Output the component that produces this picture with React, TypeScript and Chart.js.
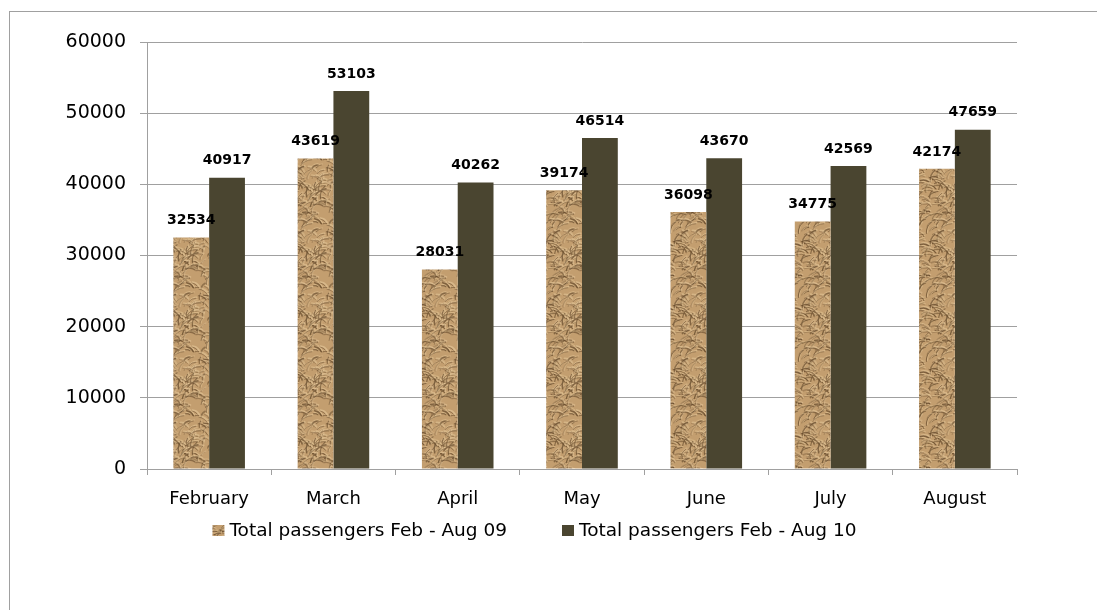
import React, { useEffect, useRef } from "react";
import { Chart, registerables } from "chart.js";

Chart.register(...registerables);

const categories = ["February", "March", "April", "May", "June", "July", "August"];
const passengers09 = [32534, 43619, 28031, 39174, 36098, 34775, 42174];
const passengers10 = [40917, 53103, 40262, 46514, 43670, 42569, 47659];
const seriesLabels = ["Total passengers Feb - Aug 09", "Total passengers Feb - Aug 10"];
const yMin = 0;
const yMax = 60000;
const yStep = 10000;

const DARK = "#4A4530";
const GRID = "#A0A0A0";
const FONT = "'DejaVu Sans', Verdana, sans-serif";

// Procedural "crumpled paper" texture (deterministic, purely decorative)
function makeTexture(): CanvasPattern | string {
  const size = 64;
  const c = document.createElement("canvas");
  c.width = size;
  c.height = size;
  const g = c.getContext("2d");
  if (!g) return "#C29D6E";
  g.fillStyle = "#C39E6F";
  g.fillRect(0, 0, size, size);
  let s = 1234567;
  const rnd = () => {
    s = (s * 16807) % 2147483647;
    return s / 2147483647;
  };
  const strokeWrapped = (x: number, y: number, dx: number, dy: number) => {
    for (const ox of [-size, 0, size]) {
      for (const oy of [-size, 0, size]) {
        g.beginPath();
        g.moveTo(x + ox, y + oy);
        g.quadraticCurveTo(x + ox + dx * 0.5 + dy * 0.25, y + oy + dy * 0.5 - dx * 0.25, x + ox + dx, y + oy + dy);
        g.stroke();
      }
    }
  };
  g.lineCap = "round";
  for (let i = 0; i < 190; i++) {
    const x = rnd() * size;
    const y = rnd() * size;
    const ang = -1.4 + rnd() * 2.2;
    const len = 3 + rnd() * 10;
    const dx = Math.cos(ang) * len;
    const dy = Math.sin(ang) * len;
    g.strokeStyle = `rgba(226,196,150,${0.3 + rnd() * 0.4})`;
    g.lineWidth = 0.8 + rnd() * 1.4;
    strokeWrapped(x + 1, y - 1, dx, dy);
    g.strokeStyle = `rgba(98,70,40,${0.3 + rnd() * 0.45})`;
    g.lineWidth = 0.6 + rnd() * 1.0;
    strokeWrapped(x, y, dx, dy);
  }
  return g.createPattern(c, "repeat") || "#C29D6E";
}

export default function App() {
  const canvasRef = useRef<HTMLCanvasElement | null>(null);

  useEffect(() => {
    const canvas = canvasRef.current;
    if (!canvas) return;
    const texture = makeTexture();

    const valueLabels = {
      id: "valueLabels",
      afterDatasetsDraw(chart: any) {
        const ctx = chart.ctx;
        ctx.save();
        ctx.font = `bold 14px ${FONT}`;
        ctx.fillStyle = "#000";
        ctx.textAlign = "center";
        ctx.textBaseline = "middle";
        chart.data.datasets.forEach((ds: any, i: number) => {
          const meta = chart.getDatasetMeta(i);
          meta.data.forEach((bar: any, j: number) => {
            ctx.fillText(String(ds.data[j]), bar.x, bar.y - 17);
          });
        });
        ctx.restore();
      },
    };

    const customLegend = {
      id: "customLegend",
      afterDraw(chart: any) {
        const ctx = chart.ctx;
        ctx.save();
        ctx.font = `18.5px ${FONT}`;
        ctx.textBaseline = "middle";
        ctx.textAlign = "left";
        const fills = [texture, DARK];
        const box = 12;
        const gap = 5;
        const spacing = 55;
        const widths = seriesLabels.map((t) => ctx.measureText(t).width);
        const total = widths.reduce((a: number, w: number) => a + w + box + gap, 0) + spacing;
        const centerX = chart.width / 2 - 14;
        const cy = chart.scales.x.bottom + 22;
        let x = centerX - total / 2;
        seriesLabels.forEach((t, i) => {
          ctx.fillStyle = fills[i];
          ctx.fillRect(x, cy - box / 2, box, box - 1);
          x += box + gap;
          ctx.fillStyle = "#000";
          ctx.fillText(t, x, cy);
          x += widths[i] + spacing;
        });
        ctx.restore();
      },
    };

    const chart = new Chart(canvas, {
      type: "bar",
      data: {
        labels: categories,
        datasets: [
          {
            label: seriesLabels[0],
            data: passengers09,
            backgroundColor: texture as any,
            borderWidth: 0,
            categoryPercentage: 0.576,
            barPercentage: 1,
          },
          {
            label: seriesLabels[1],
            data: passengers10,
            backgroundColor: DARK,
            borderWidth: 0,
            categoryPercentage: 0.576,
            barPercentage: 1,
          },
        ],
      },
      options: {
        responsive: false,
        animation: false,
        layout: { padding: { left: 0, right: 80, top: 42, bottom: 101 } },
        plugins: {
          legend: { display: false },
          tooltip: { enabled: false },
          title: { display: false },
        },
        scales: {
          x: {
            afterFit: (scale: any) => {
              scale.height = 40;
            },
            grid: {
              offset: true,
              drawOnChartArea: false,
              drawTicks: true,
              tickLength: 6,
              color: GRID,
            },
            border: { display: true, color: GRID, width: 1 },
            ticks: {
              color: "#000",
              font: { family: FONT, size: 18 },
              padding: 14,
              maxRotation: 0,
              autoSkip: false,
            },
          },
          y: {
            min: yMin,
            max: yMax,
            afterFit: (scale: any) => {
              scale.width = 147;
            },
            grid: {
              color: GRID,
              drawTicks: true,
              tickLength: 7,
            },
            border: { display: true, color: GRID, width: 1 },
            ticks: {
              stepSize: yStep,
              color: "#000",
              font: { family: FONT, size: 19 },
              padding: 14,
              callback: (v: any) => String(v),
            },
          },
        },
      },
      plugins: [valueLabels, customLegend],
    });

    return () => chart.destroy();
  }, []);

  return (
    <div
      style={{
        position: "fixed",
        left: 0,
        top: 0,
        width: 1097,
        height: 610,
        overflow: "hidden",
        background: "#fff",
      }}
    >
      <div
        style={{
          position: "absolute",
          left: 9,
          top: 11,
          width: 1200,
          height: 700,
          borderLeft: "1px solid #A0A0A0",
          borderTop: "1px solid #A0A0A0",
        }}
      />
      <canvas
        ref={canvasRef}
        width={1097}
        height={610}
        style={{ position: "absolute", left: 0, top: 0, width: 1097, height: 610 }}
      />
    </div>
  );
}
